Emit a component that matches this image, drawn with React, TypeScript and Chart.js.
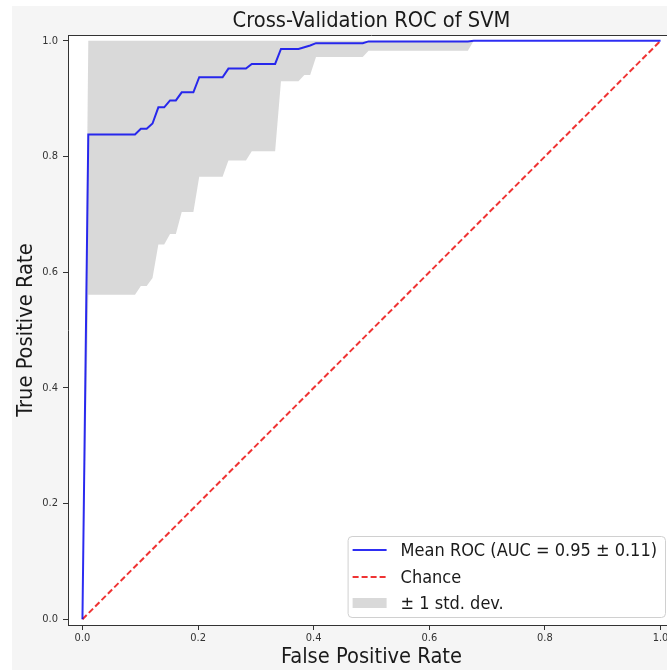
import React, { useEffect, useRef } from 'react';
import { Chart, registerables } from 'chart.js';

Chart.register(...registerables);

const chartTitle = 'Cross-Validation ROC of SVM';
const xAxisLabel = 'False Positive Rate';
const yAxisLabel = 'True Positive Rate';
const xTicks = [0, 0.2, 0.4, 0.6, 0.8, 1.0];
const yTicks = [0, 0.2, 0.4, 0.6, 0.8, 1.0];

const meanLabel = 'Mean ROC (AUC = 0.95 \u00b1 0.11)';
const chanceLabel = 'Chance';
const bandLabel = '\u00b1 1 std. dev.';

// vertices of the step-like mean ROC curve and its ±1 std band
const fprPoints = [0, 0.0101, 0.0909, 0.101, 0.1111, 0.1212, 0.1313, 0.1414, 0.1515, 0.1616, 0.1717, 0.1919, 0.202, 0.2424, 0.2525, 0.2828, 0.2929, 0.3333, 0.3434, 0.3737, 0.3838, 0.3939, 0.404, 0.4848, 0.4949, 0.6667, 0.6768, 1.0];
const meanTpr = [0, 0.838, 0.838, 0.848, 0.848, 0.857, 0.885, 0.885, 0.897, 0.897, 0.911, 0.911, 0.937, 0.937, 0.952, 0.952, 0.96, 0.96, 0.986, 0.986, 0.989, 0.992, 0.996, 0.996, 0.999, 0.999, 1.0, 1.0];
const lowerTpr = [0, 0.561, 0.561, 0.576, 0.576, 0.59, 0.648, 0.648, 0.666, 0.666, 0.704, 0.704, 0.765, 0.765, 0.793, 0.793, 0.809, 0.809, 0.93, 0.93, 0.941, 0.941, 0.972, 0.972, 0.983, 0.983, 1.0, 1.0];
const upperTpr = [0, 1, 1, 1, 1, 1, 1, 1, 1, 1, 1, 1, 1, 1, 1, 1, 1, 1, 1, 1, 1, 1, 1, 1, 1, 1, 1, 1];

const chanceX = [0, 1];
const chanceY = [0, 1];

const FONT = "'DejaVu Sans Condensed', 'DejaVu Sans', sans-serif";
const TEXT = '#1a1a1a';
const AXIS = '#333333';

const toPts = (xs: number[], ys: number[]) => xs.map((x, i) => ({ x, y: ys[i] }));

const plotBgPlugin = {
  id: 'plotBg',
  beforeDraw(chart: any) {
    const { ctx, chartArea } = chart;
    ctx.save();
    ctx.fillStyle = '#ffffff';
    ctx.fillRect(chartArea.left, chartArea.top, chartArea.right - chartArea.left, chartArea.bottom - chartArea.top);
    ctx.restore();
  },
};

const frameLegendPlugin = {
  id: 'frameLegend',
  afterDraw(chart: any) {
    const { ctx, chartArea } = chart;
    ctx.save();
    ctx.strokeStyle = AXIS;
    ctx.lineWidth = 1;
    ctx.beginPath();
    ctx.moveTo(chartArea.left, Math.round(chartArea.top) + 0.5);
    ctx.lineTo(chartArea.right, Math.round(chartArea.top) + 0.5);
    ctx.stroke();

    const ds = chart.data.datasets;
    const mean = ds[0];
    const chance = ds[1];
    const band = ds[3];
    const entries = [mean.label, chance.label, band.label];
    ctx.font = `18px ${FONT}`;
    const textW = Math.max(...entries.map((t: string) => ctx.measureText(t).width));
    const boxW = 5 + 34 + 14 + textW + 8;
    const boxH = 81;
    const right = chartArea.right - 10;
    const bottom = chartArea.bottom - 8;
    const left = right - boxW;
    const top = bottom - boxH;
    ctx.beginPath();
    ctx.roundRect(left + 0.5, top + 0.5, boxW, boxH, 4);
    ctx.fillStyle = 'rgba(255,255,255,0.8)';
    ctx.fill();
    ctx.strokeStyle = '#d0d0d0';
    ctx.stroke();

    const hx0 = left + 5;
    const hx1 = hx0 + 34;
    const tx = hx1 + 14;
    const ys = [top + 14, top + 41, top + 67];

    ctx.lineWidth = mean.borderWidth;
    ctx.strokeStyle = mean.borderColor;
    ctx.beginPath();
    ctx.moveTo(hx0, ys[0]);
    ctx.lineTo(hx1, ys[0]);
    ctx.stroke();

    ctx.lineWidth = chance.borderWidth;
    ctx.strokeStyle = chance.borderColor;
    ctx.setLineDash(chance.borderDash);
    ctx.beginPath();
    ctx.moveTo(hx0, ys[1]);
    ctx.lineTo(hx1, ys[1]);
    ctx.stroke();
    ctx.setLineDash([]);

    ctx.fillStyle = band.backgroundColor;
    ctx.fillRect(hx0, ys[2] - 5, 34, 10);

    ctx.fillStyle = TEXT;
    ctx.textBaseline = 'middle';
    ctx.textAlign = 'left';
    entries.forEach((t: string, i: number) => ctx.fillText(t, tx, ys[i] + 1));
    ctx.restore();
  },
};

export default function App() {
  const ref = useRef<HTMLCanvasElement | null>(null);

  useEffect(() => {
    if (!ref.current) return;
    const chart = new Chart(ref.current, {
      type: 'line',
      data: {
        datasets: [
          {
            label: meanLabel,
            data: toPts(fprPoints, meanTpr),
            borderColor: 'rgba(0,0,240,0.82)',
            borderWidth: 2,
            pointRadius: 0,
            fill: false,
            order: 0,
          },
          {
            label: chanceLabel,
            data: toPts(chanceX, chanceY),
            borderColor: 'rgba(235,0,0,0.8)',
            borderWidth: 2,
            borderDash: [6, 3],
            pointRadius: 0,
            fill: false,
            order: 1,
          },
          {
            label: 'lower',
            data: toPts(fprPoints, lowerTpr),
            borderWidth: 0,
            borderColor: 'rgba(0,0,0,0)',
            pointRadius: 0,
            fill: false,
            order: 2,
          },
          {
            label: bandLabel,
            data: toPts(fprPoints, upperTpr),
            borderWidth: 0,
            borderColor: 'rgba(0,0,0,0)',
            backgroundColor: 'rgba(128,128,128,0.3)',
            pointRadius: 0,
            fill: '-1',
            order: 2,
          },
        ],
      },
      options: {
        animation: false,
        responsive: false,
        devicePixelRatio: 1,
        parsing: true,
        elements: { line: { tension: 0 } },
        layout: { padding: { left: 0, right: 25, top: 0, bottom: 0 } },
        plugins: {
          legend: { display: false },
          tooltip: { enabled: false },
          title: {
            display: true,
            text: chartTitle,
            fullSize: false,
            color: TEXT,
            font: { family: FONT, size: 21.7, weight: 'normal' },
            padding: { top: 8, bottom: 1 },
          },
        },
        scales: {
          x: {
            type: 'linear',
            min: -0.025,
            max: 1.025,
            afterBuildTicks: (s: any) => { s.ticks = xTicks.map((v) => ({ value: v })); },
            afterFit: (s: any) => { s.height = 45; },
            ticks: {
              color: AXIS,
              font: { family: FONT, size: 11 },
              padding: 2,
              callback: (v: any) => Number(v).toFixed(1),
            },
            grid: { display: true, drawOnChartArea: false, drawTicks: true, tickLength: 5, tickColor: AXIS },
            border: { display: true, color: AXIS, width: 1 },
            title: {
              display: true,
              text: xAxisLabel,
              color: TEXT,
              font: { family: FONT, size: 21.7 },
              padding: { top: 0, bottom: 0 },
            },
          },
          y: {
            type: 'linear',
            min: -0.01,
            max: 1.01,
            afterBuildTicks: (s: any) => { s.ticks = yTicks.map((v) => ({ value: v })); },
            afterFit: (s: any) => { s.width = 68; },
            ticks: {
              color: AXIS,
              font: { family: FONT, size: 11 },
              padding: 5,
              callback: (v: any) => Number(v).toFixed(1),
            },
            grid: { display: true, drawOnChartArea: false, drawTicks: true, tickLength: 5, tickColor: AXIS },
            border: { display: true, color: AXIS, width: 1 },
            title: {
              display: true,
              text: yAxisLabel,
              color: TEXT,
              font: { family: FONT, size: 21.7 },
              padding: { top: 13, bottom: 0 },
            },
          },
        },
      },
      plugins: [plotBgPlugin, frameLegendPlugin],
    } as any);
    return () => chart.destroy();
  }, []);

  return (
    <div style={{ position: 'fixed', left: 0, top: 0, width: 667, height: 670, overflow: 'hidden', background: '#ffffff' }}>
      <div style={{ position: 'absolute', left: 12, top: 6, right: 0, bottom: 0, background: '#f5f5f5' }} />
      <canvas ref={ref} width={700} height={670} style={{ position: 'absolute', left: 0, top: 0, width: 700, height: 670 }} />
    </div>
  );
}
